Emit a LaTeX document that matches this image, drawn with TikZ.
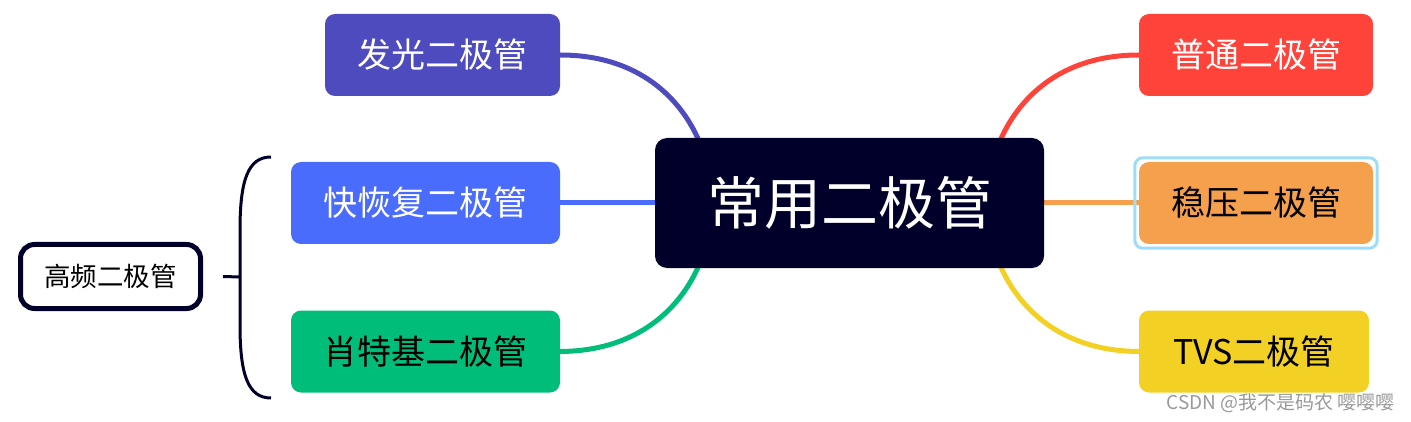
\documentclass[tikz,border=0pt]{standalone}
\usepackage{fontspec}
\setmainfont{Noto Sans CJK SC}
\usetikzlibrary{backgrounds,calc}
\definecolor{navy}{HTML}{00002A}
\definecolor{cled}{HTML}{4E4BBF}
\definecolor{cfast}{HTML}{4A6CFC}
\definecolor{cschottky}{HTML}{00BE7A}
\definecolor{cnormal}{HTML}{FE443A}
\definecolor{czener}{HTML}{F5A04D}
\definecolor{ctvs}{HTML}{F2D124}
\definecolor{csel}{HTML}{9DDDF8}
\tikzset{
  leaf/.style={rounded corners=10pt, inner sep=0pt, minimum height=82pt, font=\fontsize{34}{40}\selectfont},
  link/.style={line width=5pt},
}
\begin{document}
\begin{tikzpicture}[x=1pt,y=-1pt]
\useasboundingbox (0,0) rectangle (1411,422);
\node[fill=navy, rounded corners=12pt, minimum width=389pt, minimum height=130pt, inner sep=0pt, text=white, font=\fontsize{57}{66}\selectfont] (c) at (849.5,203) {常用二极管};
\node[leaf, fill=cled, text=white, minimum width=235pt] (led) at (442.5,55) {发光二极管};
\node[leaf, fill=cfast, text=white, minimum width=269pt] (fast) at (425.5,203) {快恢复二极管};
\node[leaf, fill=cschottky, text=black, minimum width=269pt] (sch) at (425.5,351.5) {肖特基二极管};
\node[leaf, fill=cnormal, text=white, minimum width=234pt] (nor) at (1256,55) {普通二极管};
\node[leaf, fill=czener, text=black, minimum width=234pt] (zen) at (1256,203) {稳压二极管};
\node[leaf, fill=ctvs, text=black, minimum width=230pt] (tvs) at (1254,351.5) {TVS二极管};
\draw[csel, line width=3pt, rounded corners=8pt] ($(zen.north west)+(-4,-4)$) rectangle ($(zen.south east)+(4,4)$);
\node[draw=navy, line width=5pt, fill=white, rounded corners=14pt, minimum width=180pt, minimum height=64pt, inner sep=0pt, font=\fontsize{26.5}{30}\selectfont] (hf) at (110.5,276.5) {高频二极管};
\coordinate (bt) at (271,157);
\coordinate (bb) at (271,398);
\coordinate (bm) at (240,277);
\draw[navy, line width=3pt] (bt) .. controls (248,157) and (240,180) .. (240,230) -- (240,325) .. controls (240,375) and (248,398) .. (bb);
\draw[navy, line width=3pt] (hf.east) ++(20,0) -- (bm);
\begin{scope}[on background layer]
\draw[link, cled] (led.east) .. controls (640,55) and (682,100) .. ($(c.north west)+(45,5)$);
\draw[link, cnormal] (nor.west) .. controls (1059,55) and (1017,100) .. ($(c.north east)+(-45,5)$);
\draw[link, cschottky] (sch.east) .. controls (640,351) and (682,306) .. ($(c.south west)+(45,-5)$);
\draw[link, ctvs] (tvs.west) .. controls (1059,351) and (1017,306) .. ($(c.south east)+(-45,-5)$);
\draw[link, cfast] (fast.east) -- (c.west);
\draw[link, czener] (c.east) -- (zen.west);
\end{scope}
\node[text=gray!80, font=\fontsize{19}{21}\selectfont, anchor=east, inner sep=0pt] (wm) at (1395,403) {CSDN @我不是码农 嘤嘤嘤};
\end{tikzpicture}
\end{document}
